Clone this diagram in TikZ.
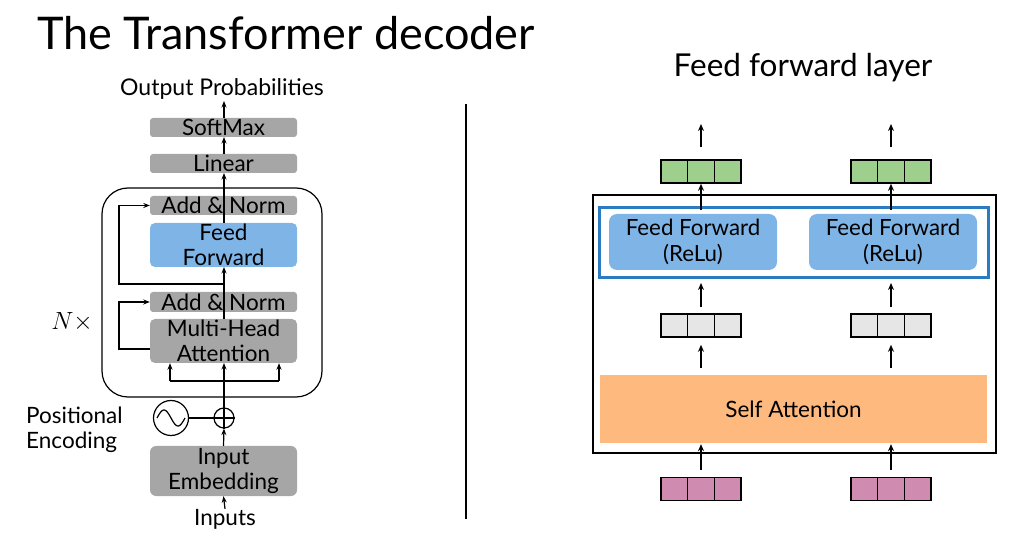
\documentclass[tikz,border=0pt]{standalone}
\usepackage{fontspec}
\setmainfont{Lato}
\usetikzlibrary{arrows.meta,calc}
\definecolor{boxgray}{HTML}{A6A6A6}
\definecolor{ffblue}{HTML}{7EB4E6}
\definecolor{lineblue}{HTML}{2B7BC0}
\definecolor{vgreen}{HTML}{9FCF8C}
\definecolor{vgray}{HTML}{E6E6E6}
\definecolor{vpink}{HTML}{D08CB0}
\definecolor{saorange}{HTML}{FDB97E}
\tikzset{
  fs/.style 2 args={font=\fontsize{#1}{#2}\selectfont},
  graybox/.style={fill=boxgray, rounded corners=3pt, minimum width=147pt, inner sep=0pt, align=center, fs={22.5}{25.5}},
  lbl/.style={inner sep=0pt, align=center},
  larr/.style={-{Stealth[length=6.5pt,width=5pt]}, line width=1.2pt},
  lline/.style={line width=1.2pt},
  rarr/.style={-{Stealth[length=7pt,width=6pt]}, line width=1.8pt},
  vecbox/.style={draw=black, line width=1.6pt, fill=#1, minimum width=80pt, minimum height=23pt, inner sep=0pt,
    path picture={
      \draw[line width=1.6pt] ($(path picture bounding box.north west)!1/3!(path picture bounding box.north east)$) -- ($(path picture bounding box.south west)!1/3!(path picture bounding box.south east)$);
      \draw[line width=1.6pt] ($(path picture bounding box.north west)!2/3!(path picture bounding box.north east)$) -- ($(path picture bounding box.south west)!2/3!(path picture bounding box.south east)$);
    }},
  rff/.style={fill=ffblue, rounded corners=8pt, minimum width=168pt, minimum height=56pt, inner sep=0pt, align=center, fs={22.3}{26}}
}
\begin{document}
\begin{tikzpicture}[x=1pt,y=-1pt]
\useasboundingbox (0,0) rectangle (1021,545);
% titles
\node[lbl, anchor=base west, fs={45}{50}] (title) at (37,50) {The Transformer decoder};
\node[lbl, fs={31.5}{36}] (fftitle) at (803,68) {Feed forward layer};
% divider
\coordinate (dtop) at (466,104);
\coordinate (dbot) at (466,519);
\draw[line width=2.2pt] (dtop) -- (dbot);

% ---------- left: decoder ----------
\draw[line width=1.2pt, rounded corners=26pt] (102,188) rectangle (322,397);
\node[lbl, fs={23}{26}] (out) at (222,89) {Output Probabilities};
\node[graybox, minimum height=19pt] (soft) at (223.5,127.5) {SoftMax};
\node[graybox, minimum height=19pt] (lin) at (223.5,163.5) {Linear};
\node[graybox, minimum height=19pt] (an1) at (223.5,205.5) {Add \& Norm};
\node[graybox, fill=ffblue, rounded corners=5pt, minimum height=44pt] (ff) at (223.5,245) {Feed\\Forward};
\node[graybox, minimum height=20pt] (an2) at (223.5,302) {Add \& Norm};
\node[graybox, rounded corners=5pt, minimum height=44pt] (mha) at (223.5,341) {Multi-Head\\Attention};
\node[graybox, rounded corners=6pt, minimum height=50pt] (emb) at (223.5,471) {Input\\Embedding};
\node[lbl, fs={22.5}{25.5}] (inp) at (225,519) {Inputs};
\node[lbl, fs={22.5}{25.5}, anchor=west, align=left] (pe) at (26,430) {Positional\\Encoding};
\node[lbl, fs={23}{25}] (nx) at (72,322) {$N\times$};
\node[draw, circle, line width=1.2pt, minimum size=20pt, inner sep=0pt] (plus) at (224,418) {};
\draw[lline] (plus.north) -- (plus.south) (plus.west) -- (plus.east);
\node[draw, circle, line width=1.2pt, minimum size=35pt, inner sep=0pt] (sine) at (171,418) {};
\draw[lline] plot[domain=-1:1, samples=40, smooth] ({171+14*\x},{418+8*sin(180*\x)});
\draw[lline] (sine.east) -- (plus.west);

\draw[larr] (inp.north) -- (emb.south);
\draw[larr] (emb.north) -- (plus.south);
\draw[larr] (plus.north) -- (224,363);
\coordinate (bl) at (170,381);
\coordinate (br) at (279,381);
\draw[lline] (bl) -- (br);
\draw[larr] (bl) -- (bl |- mha.south);
\draw[larr] (br) -- (br |- mha.south);
\draw[lline] (224,319) -- (224,292);
\draw[larr] (224,292) -- (224,267);
\coordinate (r1a) at (224,284);
\coordinate (r1b) at (119,284);
\draw[larr] (r1a) -- (r1b) -- (r1b |- an1.west) -- (an1.west);
\coordinate (r2a) at (150,349);
\coordinate (r2b) at (119,349);
\draw[larr] (r2a) -- (r2b) -- (r2b |- an2.west) -- (an2.west);
\draw[lline] (224,223) -- (224,196);
\draw[larr] (224,196) -- (224,173);
\draw[larr] (224,154) -- (224,137);
\draw[larr] (224,118) -- (224,101);

% ---------- right: feed forward layer ----------
\draw[line width=2.5pt] (593,195) rectangle (996,453);
\node[fill=saorange, minimum width=387pt, minimum height=68pt, inner sep=0pt, fs={22.5}{26}] (sa) at (793.5,409) {Self Attention};
\draw[line width=3pt, draw=lineblue] (599,208) rectangle (988,278);
\node[rff] (ff1) at (693,242) {Feed Forward\\(ReLu)};
\node[rff] (ff2) at (893,242) {Feed Forward\\(ReLu)};
\node[vecbox=vgreen] (g1) at (701,171.5) {};
\node[vecbox=vgreen] (g2) at (891,171.5) {};
\node[vecbox=vgray] (m1) at (701,325.5) {};
\node[vecbox=vgray] (m2) at (891,325.5) {};
\node[vecbox=vpink] (p1) at (701,489) {};
\node[vecbox=vpink] (p2) at (891,489) {};
\coordinate (t1) at (701,124);
\coordinate (t2) at (891,124);
\draw[rarr, shorten <=12pt] (g1.north) -- (t1);
\draw[rarr, shorten <=12pt] (g2.north) -- (t2);
\draw[rarr] (701,210) -- (g1.south);
\draw[rarr] (891,210) -- (g2.south);
\draw[rarr, shorten <=6pt] (m1.north) -- (701,283);
\draw[rarr, shorten <=6pt] (m2.north) -- (891,283);
\draw[rarr, shorten <=7pt, shorten >=7pt] (m1.south |- sa.north) -- (m1.south);
\draw[rarr, shorten <=7pt, shorten >=7pt] (m2.south |- sa.north) -- (m2.south);
\draw[rarr, shorten <=7pt, shorten >=1pt] (p1.north) -- (p1.north |- sa.south);
\draw[rarr, shorten <=7pt, shorten >=1pt] (p2.north) -- (p2.north |- sa.south);
\end{tikzpicture}
\end{document}
